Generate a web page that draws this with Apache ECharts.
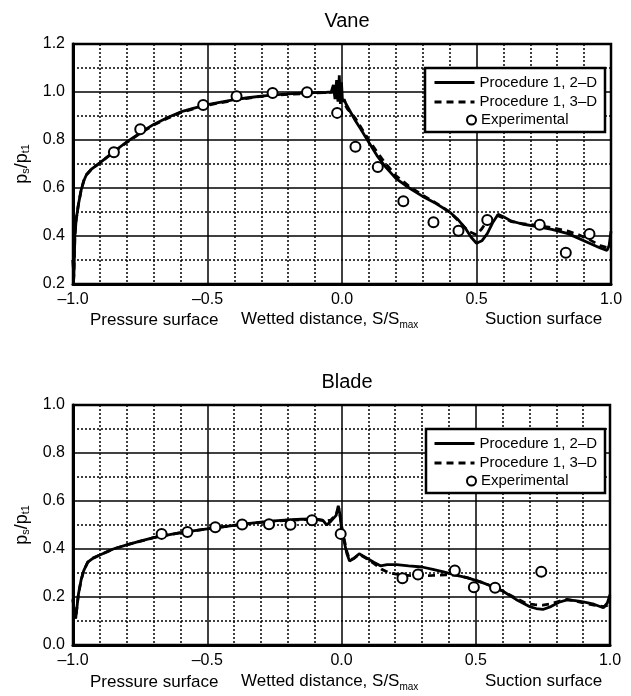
<!DOCTYPE html>
<html>
<head>
<meta charset="utf-8">
<script src="https://cdn.jsdelivr.net/npm/echarts@6/dist/echarts.min.js"></script>
<style>html,body{margin:0;padding:0;background:#fff;}#c{width:631px;height:696px;}</style>
</head>
<body>
<div id="c"></div>
<script>
// ---- Data ----
const xTicks = [-1.0, -0.5, 0.0, 0.5, 1.0];
const vaneYTicks = [0.2, 0.4, 0.6, 0.8, 1.0, 1.2];
const bladeYTicks = [0.0, 0.2, 0.4, 0.6, 0.8, 1.0];
const seriesNames = ['Procedure 1, 2\u2013D', 'Procedure 1, 3\u2013D', 'Experimental'];

const vane2D_x = [-1.0,-0.997,-0.993,-0.988,-0.98,-0.97,-0.96,-0.95,-0.93,-0.9,-0.85,-0.8,-0.75,-0.7,-0.65,-0.6,-0.55,-0.5,-0.45,-0.4,-0.35,-0.3,-0.25,-0.2,-0.15,-0.1,-0.06,-0.04,-0.032,-0.026,-0.02,-0.015,-0.01,-0.006,-0.002,0.002,0.008,0.015,0.03,0.05,0.07,0.1,0.13,0.16,0.2,0.25,0.3,0.35,0.4,0.43,0.46,0.48,0.5,0.52,0.54,0.56,0.58,0.6,0.63,0.67,0.72,0.78,0.84,0.88,0.92,0.96,0.985,0.993,1.0];
const vane2D_y = [0.30,0.22,0.40,0.47,0.53,0.59,0.63,0.655,0.68,0.705,0.75,0.792,0.83,0.865,0.893,0.917,0.933,0.947,0.958,0.968,0.976,0.983,0.988,0.992,0.995,0.997,0.998,1.0,1.03,0.97,1.05,0.96,1.07,0.95,1.04,0.96,0.97,0.95,0.92,0.88,0.845,0.79,0.735,0.69,0.64,0.60,0.565,0.535,0.50,0.47,0.43,0.395,0.37,0.38,0.41,0.455,0.49,0.48,0.462,0.45,0.44,0.428,0.41,0.39,0.37,0.35,0.34,0.36,0.42];

const vane3D_x = [-1.0,-0.997,-0.993,-0.988,-0.98,-0.97,-0.96,-0.95,-0.93,-0.9,-0.85,-0.8,-0.75,-0.7,-0.65,-0.6,-0.55,-0.5,-0.4,-0.3,-0.2,-0.1,-0.05,-0.02,0.0,0.02,0.05,0.08,0.1,0.13,0.16,0.2,0.25,0.3,0.35,0.4,0.44,0.47,0.5,0.52,0.54,0.56,0.58,0.6,0.63,0.67,0.72,0.78,0.84,0.88,0.92,0.96,0.99,1.0];
const vane3D_y = [0.30,0.23,0.40,0.47,0.53,0.59,0.63,0.655,0.68,0.705,0.748,0.79,0.828,0.862,0.89,0.914,0.931,0.945,0.966,0.982,0.99,0.996,0.998,1.0,0.97,0.93,0.89,0.835,0.80,0.75,0.705,0.652,0.607,0.57,0.537,0.50,0.455,0.42,0.405,0.43,0.465,0.48,0.485,0.475,0.46,0.452,0.445,0.435,0.42,0.405,0.385,0.36,0.35,0.35];

const vaneExp_x = [-0.848,-0.75,-0.516,-0.392,-0.258,-0.13,-0.018,0.05,0.133,0.228,0.34,0.433,0.54,0.735,0.832,0.92];
const vaneExp_y = [0.749,0.845,0.946,0.982,0.996,0.999,0.913,0.772,0.687,0.545,0.457,0.422,0.467,0.447,0.33,0.408];

const blade2D_x = [-1.0,-0.995,-0.99,-0.986,-0.98,-0.97,-0.96,-0.945,-0.925,-0.9,-0.85,-0.8,-0.75,-0.7,-0.65,-0.6,-0.5,-0.4,-0.35,-0.3,-0.25,-0.2,-0.15,-0.1,-0.07,-0.055,-0.04,-0.02,-0.012,-0.005,0.0,0.01,0.02,0.03,0.045,0.066,0.09,0.12,0.145,0.17,0.205,0.25,0.3,0.34,0.38,0.43,0.47,0.52,0.56,0.6,0.65,0.7,0.725,0.75,0.78,0.81,0.84,0.87,0.9,0.94,0.975,0.99,1.0];
const blade2D_y = [0.19,0.13,0.11,0.15,0.21,0.27,0.31,0.345,0.362,0.375,0.40,0.417,0.433,0.447,0.458,0.468,0.484,0.498,0.506,0.512,0.517,0.521,0.524,0.525,0.52,0.50,0.515,0.54,0.58,0.54,0.48,0.43,0.38,0.35,0.36,0.38,0.365,0.345,0.33,0.335,0.335,0.33,0.325,0.315,0.305,0.29,0.28,0.262,0.245,0.225,0.19,0.16,0.152,0.148,0.16,0.178,0.188,0.185,0.18,0.17,0.155,0.175,0.21];

const blade3D_x = [-1.0,-0.995,-0.99,-0.986,-0.98,-0.97,-0.96,-0.945,-0.925,-0.9,-0.85,-0.8,-0.7,-0.6,-0.5,-0.4,-0.3,-0.2,-0.1,-0.06,-0.04,-0.02,-0.01,0.0,0.01,0.02,0.03,0.045,0.066,0.09,0.12,0.15,0.18,0.22,0.28,0.34,0.39,0.43,0.47,0.52,0.56,0.6,0.65,0.69,0.72,0.75,0.78,0.81,0.84,0.87,0.9,0.94,0.975,0.99,1.0];
const blade3D_y = [0.19,0.13,0.11,0.15,0.21,0.27,0.31,0.345,0.362,0.375,0.40,0.417,0.447,0.468,0.484,0.498,0.511,0.52,0.524,0.516,0.52,0.545,0.57,0.50,0.44,0.39,0.355,0.36,0.378,0.362,0.34,0.315,0.30,0.292,0.288,0.29,0.292,0.29,0.28,0.262,0.245,0.225,0.195,0.172,0.168,0.166,0.172,0.182,0.19,0.184,0.175,0.166,0.16,0.165,0.20];

const bladeExp_x = [-0.67,-0.574,-0.47,-0.37,-0.27,-0.19,-0.11,-0.003,0.227,0.285,0.422,0.493,0.572,0.744];
const bladeExp_y = [0.463,0.471,0.491,0.502,0.503,0.501,0.52,0.463,0.278,0.294,0.31,0.241,0.239,0.305];

// ---- Build ----
const FONT = '"Liberation Sans", Arial, Helvetica, sans-serif';
const zip = (xs, ys) => xs.map((x, i) => [x, ys[i]]);
const fmt = v => (Math.abs(v) < 1e-9 ? '0.0' : v.toFixed(1).replace('-', '\u2013'));

function xAxis(gi) {
  return {
    type: 'value', gridIndex: gi, min: xTicks[0], max: xTicks[xTicks.length - 1], interval: 0.5,
    axisLine: { show: true, onZero: false, lineStyle: { color: '#000', width: 3 } },
    axisTick: { show: false },
    axisLabel: { formatter: fmt, color: '#000', fontSize: 16, fontFamily: FONT, margin: 8 },
    splitLine: { show: true, lineStyle: { color: '#000', width: 1.5 } },
    minorTick: { show: true, splitNumber: 5, length: 0 },
    minorSplitLine: { show: true, lineStyle: { color: '#000', width: 1.5, type: [2, 2] } }
  };
}
function yAxis(gi, ticks) {
  return {
    type: 'value', gridIndex: gi, min: ticks[0], max: ticks[ticks.length - 1], interval: 0.2,
    name: '{a|p}{b|s}{a|/p}{b|t1}', nameLocation: 'middle', nameGap: 40, nameRotate: 90,
    nameTextStyle: {
      rich: {
        a: { fontSize: 18, fontFamily: FONT, color: '#000', height: 22, verticalAlign: 'middle' },
        b: { fontSize: 11, fontFamily: FONT, color: '#000', padding: [9, 0, 0, 0], verticalAlign: 'middle' }
      }
    },
    axisLine: { show: true, onZero: false, lineStyle: { color: '#000', width: 3 } },
    axisTick: { show: false },
    axisLabel: { formatter: v => v.toFixed(1), color: '#000', fontSize: 16, fontFamily: FONT, margin: 8 },
    splitLine: { show: true, lineStyle: { color: '#000', width: 1.5 } },
    minorTick: { show: true, splitNumber: 2, length: 0 },
    minorSplitLine: { show: true, lineStyle: { color: '#000', width: 1.5, type: [2, 2] } }
  };
}
function lineSeries(name, data, gi, dashed) {
  return {
    name, type: 'line', data, xAxisIndex: gi, yAxisIndex: gi, symbol: 'none', smooth: false,
    lineStyle: { color: '#000', width: 2.8, type: dashed ? [7, 5] : 'solid' },
    itemStyle: { color: '#000' }, z: 3, animation: false
  };
}
function expSeries(data, gi) {
  return {
    name: seriesNames[2], type: 'scatter', data, xAxisIndex: gi, yAxisIndex: gi,
    symbol: 'emptyCircle', symbolSize: 10,
    itemStyle: { color: '#000', borderColor: '#000', borderWidth: 1.3, opacity: 1 }, z: 4, animation: false
  };
}
function legends(top) {
  const ts = { fontSize: 15, fontFamily: FONT, color: '#000' };
  return [
    { data: [seriesNames[0], seriesNames[1]], orient: 'vertical', left: 433, top: top, itemWidth: 40, itemHeight: 14,
      itemGap: 4.5, padding: 0, textStyle: ts, selectedMode: false, z: 10,
      itemStyle: { opacity: 0 }, lineStyle: { width: 3 } },
    { data: [seriesNames[2]], orient: 'vertical', left: 466, top: top + 37.5, itemWidth: 9, itemHeight: 9, padding: 0,
      textStyle: ts, selectedMode: false, z: 10, itemStyle: { opacity: 1 } }
  ];
}
function annotations(y) {
  const base = { fontSize: 17, fontFamily: FONT, fill: '#000' };
  return [
    { type: 'text', left: 90, top: y - 9, z: 5, style: Object.assign({ text: 'Pressure surface' }, base) },
    { type: 'text', left: 485, top: y - 10, z: 5, style: Object.assign({ text: 'Suction surface' }, base) },
    { type: 'text', left: 241, top: y - 10, z: 5, style: {
      text: '{a|Wetted distance, S/S}{b|max}',
      rich: {
        a: { fontSize: 17, fontFamily: FONT, fill: '#000', height: 20, verticalAlign: 'middle' },
        b: { fontSize: 10, fontFamily: FONT, fill: '#000', padding: [11, 0, 0, 0], verticalAlign: 'middle' }
      }
    } }
  ];
}

const option = {
  backgroundColor: '#fff',
  animation: false,
  title: [
    { text: 'Vane', left: 342, top: 6, textAlign: 'center', textStyle: { fontSize: 20, fontWeight: 'normal', fontFamily: FONT, color: '#000' } },
    { text: 'Blade', left: 342, top: 367, textAlign: 'center', textStyle: { fontSize: 20, fontWeight: 'normal', fontFamily: FONT, color: '#000' } }
  ],
  grid: [
    { left: 73, top: 44, width: 538, height: 240, show: true, borderColor: '#000', borderWidth: 2.5, backgroundColor: 'transparent' },
    { left: 73, top: 405, width: 537, height: 240, show: true, borderColor: '#000', borderWidth: 2.5, backgroundColor: 'transparent' }
  ],
  xAxis: [xAxis(0), xAxis(1)],
  yAxis: [yAxis(0, vaneYTicks), yAxis(1, bladeYTicks)],
  legend: legends(75).concat(legends(436)),
  graphic: [
    { type: 'rect', shape: { x: 425, y: 68, width: 180, height: 64 }, z: 8, style: { fill: '#fff', stroke: '#000', lineWidth: 2.5 } },
    { type: 'rect', shape: { x: 426, y: 429, width: 179, height: 64 }, z: 8, style: { fill: '#fff', stroke: '#000', lineWidth: 2.5 } }
  ].concat(annotations(321)).concat(annotations(683)),
  series: [
    lineSeries(seriesNames[0], zip(vane2D_x, vane2D_y), 0, false),
    lineSeries(seriesNames[1], zip(vane3D_x, vane3D_y), 0, true),
    expSeries(zip(vaneExp_x, vaneExp_y), 0),
    lineSeries(seriesNames[0], zip(blade2D_x, blade2D_y), 1, false),
    lineSeries(seriesNames[1], zip(blade3D_x, blade3D_y), 1, true),
    expSeries(zip(bladeExp_x, bladeExp_y), 1)
  ]
};
const chart = echarts.init(document.getElementById('c'), null, { renderer: 'canvas' });
chart.setOption(option);
</script>
</body>
</html>
